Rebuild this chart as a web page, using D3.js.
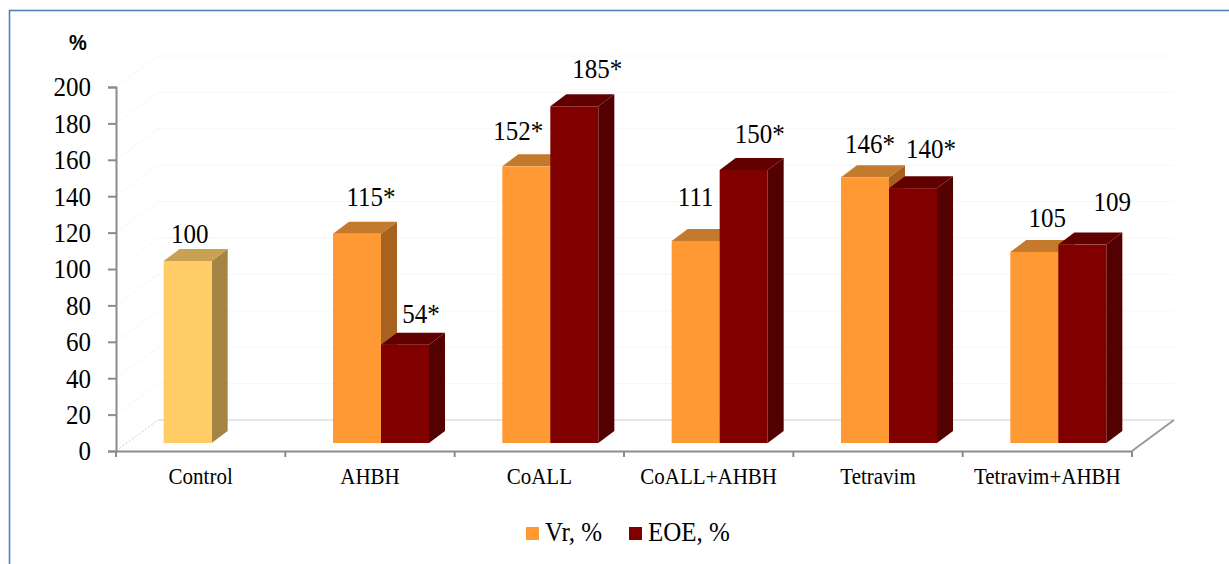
<!DOCTYPE html>
<html>
<head>
<meta charset="utf-8">
<script src="https://cdn.jsdelivr.net/npm/d3@7"></script>
<style>
  html, body { margin: 0; padding: 0; background: #ffffff; }
  svg { display: block; }
  .serif { font-family: "Liberation Serif", "Times New Roman", "DejaVu Serif", serif; }
</style>
</head>
<body>
<svg id="chart" width="1229" height="564"></svg>
<script>
// ---------------- data ----------------
const categories = ["Control", "AHBH", "CoALL", "CoALL+AHBH", "Tetravim", "Tetravim+AHBH"];
const seriesNames = ["Vr, %", "EOE, %"];
const vrValues  = [100, 115, 152, 111, 146, 105];
const eoeValues = [null, 54, 185, 150, 140, 109];
const vrLabels  = ["100", "115*", "152*", "111", "146*", "105"];
const eoeLabels = [null, "54*", "185*", "150*", "140*", "109"];
const yTicks = [0, 20, 40, 60, 80, 100, 120, 140, 160, 180, 200];
const yTitle = "%";

// ---------------- layout ----------------
const svg = d3.select("#chart");
const SANS = '"Liberation Sans", Arial, sans-serif';
const STRETCH = 1.1;  // text in the reference is slightly taller than wide

const depth = { dx: 42, dy: -31 };     // full floor depth
const barOff = { dx: 11, dy: -8 };     // bar front plane offset
const barD = { dx: 16, dy: -12 };      // bar depth

const y = d3.scaleLinear().domain([0, 200]).range([451, 87]);
const x = d3.scaleBand().domain(categories).range([116, 1132])
  .paddingInner(0.433).paddingOuter(0.2165);
const xs = d3.scaleBand().domain(["vr", "eoe"]).range([0, x.bandwidth()]);

const colors = {
  vr:      { front: "#FF9933", top: "#C47A2C", side: "#A6621E" },
  eoe:     { front: "#800000", top: "#620000", side: "#520000" },
  control: { front: "#FFCC66", top: "#C9A153", side: "#A58443" }
};

function placeText(sel, px, py) {
  return sel.attr("transform", `translate(${px},${py}) scale(1,${STRETCH})`);
}

// outer border
svg.append("rect").attr("x", 9.5).attr("y", 10.5).attr("width", 1240).attr("height", 600)
  .attr("fill", "none").attr("stroke", "#4F81BD").attr("stroke-width", 1.6);

const yMin = y.range()[0];
const xL = x.range()[0], xR = x.range()[1];

// side wall faint gridlines
const g = svg.append("g");
yTicks.forEach(t => {
  if (t === 0) return;
  g.append("line")
    .attr("x1", xL).attr("y1", y(t)).attr("x2", xL + depth.dx).attr("y2", y(t) + depth.dy)
    .attr("stroke", "#f7f7f7").attr("stroke-width", 1);
});
// back wall gridlines
yTicks.forEach(t => {
  g.append("line")
    .attr("x1", xL + depth.dx).attr("x2", xR + depth.dx)
    .attr("y1", y(t) + depth.dy).attr("y2", y(t) + depth.dy)
    .attr("stroke", t === 0 ? "#dedede" : "#f7f7f7").attr("stroke-width", t === 0 ? 1.5 : 1);
});
// left floor edge dashed
g.append("line").attr("x1", xL).attr("y1", yMin).attr("x2", xL + depth.dx).attr("y2", yMin + depth.dy)
  .attr("stroke", "#c8c8c8").attr("stroke-width", 1).attr("stroke-dasharray", "2,2");
// right floor edge
g.append("line").attr("x1", xR).attr("y1", yMin).attr("x2", xR + depth.dx).attr("y2", yMin + depth.dy)
  .attr("stroke", "#9a9a9a").attr("stroke-width", 2);

// ---------------- bars ----------------
function drawBar(parent, cat, key, value, pal) {
  const x0 = x(cat) + xs(key) + barOff.dx;
  const x1 = x0 + xs.bandwidth();
  const yb = y(0) + barOff.dy;
  const yt = y(value) + barOff.dy;
  const pts = a => a.map(p => p.join(",")).join(" ");
  parent.append("polygon").attr("fill", pal.side)
    .attr("points", pts([[x1, yt], [x1 + barD.dx, yt + barD.dy], [x1 + barD.dx, yb + barD.dy], [x1, yb]]));
  parent.append("polygon").attr("fill", pal.top)
    .attr("points", pts([[x0, yt], [x1, yt], [x1 + barD.dx, yt + barD.dy], [x0 + barD.dx, yt + barD.dy]]));
  parent.append("rect").attr("fill", pal.front)
    .attr("x", x0).attr("y", yt).attr("width", x1 - x0).attr("height", yb - yt);
  return { cx: (x0 + x1) / 2 + barD.dx / 2, top: yt + barD.dy };
}

// label nudges [dx, dy] relative to default label spot (layout only)
const vrNudge  = [[-6, 0], [6, -10], [-16, -8], [-8, -17], [-3, -6], [5, -7]];
const eoeNudge = [null, [8, -4], [15, -10], [8, -9], [10, -12], [22, -16]];

const bars = svg.append("g");
const labels = svg.append("g").attr("class", "serif")
  .style("font-size", "25px").attr("fill", "#000").attr("text-anchor", "middle");

categories.forEach((cat, i) => {
  const cg = bars.append("g");
  if (vrValues[i] != null) {
    const pal = i === 0 ? colors.control : colors.vr;
    const b = drawBar(cg, cat, "vr", vrValues[i], pal);
    placeText(labels.append("text"), b.cx + vrNudge[i][0], b.top - 6 + vrNudge[i][1]).text(vrLabels[i]);
  }
  if (eoeValues[i] != null) {
    const b = drawBar(cg, cat, "eoe", eoeValues[i], colors.eoe);
    placeText(labels.append("text"), b.cx + eoeNudge[i][0], b.top - 6 + eoeNudge[i][1]).text(eoeLabels[i]);
  }
});
labels.raise();

// ---------------- axes ----------------
const yAxis = d3.axisLeft(y).tickValues(yTicks).tickSize(8).tickPadding(17);
const ya = svg.append("g").attr("transform", `translate(${xL},0)`).call(yAxis)
  .attr("font-family", null).attr("font-size", null);
ya.select(".domain").attr("stroke", "#8c8c8c").attr("stroke-width", 2);
ya.selectAll(".tick line").attr("stroke", "#8c8c8c").attr("stroke-width", 2);
ya.selectAll(".tick text").attr("class", "serif").style("font-size", "25px").attr("fill", "#000")
  .attr("transform", `scale(1,${STRETCH})`);

const xAxis = d3.axisBottom(x).tickSize(0).tickPadding(15);
const xa = svg.append("g").attr("transform", `translate(0,${yMin})`).call(xAxis)
  .attr("font-family", null).attr("font-size", null);
xa.select(".domain").attr("stroke", "#8c8c8c").attr("stroke-width", 2);
xa.selectAll(".tick text").attr("class", "serif").style("font-size", "21px").attr("fill", "#000")
  .attr("transform", `scale(1,${STRETCH})`);
// category separators
const seps = d3.range(categories.length + 1).map(k => xL + k * x.step());
xa.selectAll(".sep").data(seps).enter().append("line")
  .attr("x1", d => d).attr("x2", d => d).attr("y1", 0).attr("y2", 6)
  .attr("stroke", "#8c8c8c").attr("stroke-width", 2);

// y title
placeText(svg.append("text"), 78, 50).attr("text-anchor", "middle")
  .style("font-family", SANS).attr("font-weight", "bold").style("font-size", "20px").text(yTitle);

// ---------------- legend ----------------
const legend = svg.append("g").attr("class", "serif").style("font-size", "25px");
const legendItems = [
  { name: seriesNames[0], color: colors.vr.front, x: 526 },
  { name: seriesNames[1], color: colors.eoe.front, x: 629 }
];
legendItems.forEach(it => {
  legend.append("rect").attr("x", it.x).attr("y", 527).attr("width", 13).attr("height", 13).attr("fill", it.color);
  placeText(legend.append("text"), it.x + 19, 541).text(it.name);
});
</script>
</body>
</html>
